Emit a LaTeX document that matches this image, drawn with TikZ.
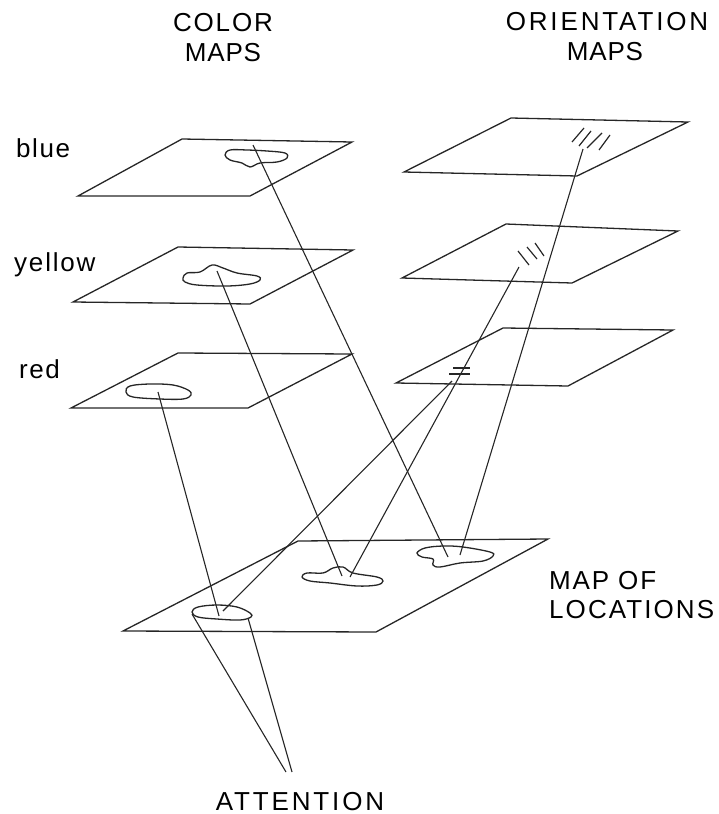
\documentclass[tikz,border=0pt]{standalone}
\usepackage{fontspec}
\setmainfont{Liberation Sans}
\tikzset{
  every picture/.style={x=1pt,y=-1pt},
  plane/.style={draw=black!85,line width=1.3pt,line join=miter},
  blob/.style={draw=black!85,line width=1.3pt},
  ray/.style={draw=black!85,line width=1.1pt},
  tickmark/.style={draw=black!85,line width=1.2pt},
  textlabel/.style={font=\fontsize{26}{26}\selectfont\addfontfeature{LetterSpace=#1},text=black,inner sep=0pt,anchor=base},
  lowlabel/.style={textlabel=#1,anchor=base west},
}
\begin{document}
\begin{tikzpicture}
\useasboundingbox (0,0) rectangle (719,814);
% planes
\draw[plane] (182,139) -- (352,142) -- (250,196) -- (78,196) -- cycle;
\draw[plane] (178,247) -- (353,250) -- (250,304) -- (73,302) -- cycle;
\draw[plane] (178,353) -- (352,354) -- (248,408) -- (71,408) -- cycle;
\draw[plane] (511,118) -- (688,122) -- (577,176) -- (404,172) -- cycle;
\draw[plane] (506,224) -- (678,231) -- (572,283) -- (402,278) -- cycle;
\draw[plane] (503,328) -- (673,330) -- (568,386) -- (396,383) -- cycle;
\draw[plane] (298,541) -- (548,539) -- (376,632) -- (123,631) -- cycle;
% blobs
\draw[blob] plot[smooth cycle,tension=0.6] coordinates {(225,155)(230,150)(247,150)(267,151)(285,153)(287,158)(277,162)(260,163)(250,167)(242,163)(230,160)};
\draw[blob] plot[smooth cycle,tension=0.6] coordinates {(183,278)(187,273)(200,272)(212,265)(223,268)(237,273)(257,276)(260,280)(250,284)(227,286)(197,285)(185,282)};
\draw[blob] plot[smooth cycle,tension=0.6] coordinates {(126,392)(130,386)(150,384)(173,385)(188,390)(191,395)(183,399)(160,399)(133,397)};
\draw[blob] plot[smooth cycle,tension=0.6] coordinates {(192,612)(198,607)(217,605)(237,607)(250,613)(251,617)(240,620)(217,619)(198,617)};
\draw[blob] plot[smooth cycle,tension=0.6] coordinates {(302,577)(307,573)(323,573)(333,568)(343,567)(353,573)(377,577)(383,581)(377,585)(357,586)(330,583)(310,581)};
\draw[blob] plot[smooth cycle,tension=0.6] coordinates {(417,553)(425,548)(443,546)(463,547)(490,552)(493,556)(483,561)(460,563)(440,567)(433,565)(433,559)(422,557)};
% ticks
\draw[tickmark] (584,128) -- (572,142) (591,131) -- (579,146) (602,133) -- (587,148) (610,135) -- (599,150);
\draw[tickmark] (518,251) -- (529,265) (527,247) -- (537,259) (535,243) -- (544,256);
\draw[tickmark] (453,368) -- (470,368) (449,374) -- (470,374);
% ray ends
\coordinate (blueA) at (253,145);   \coordinate (blueB) at (448,557);
\coordinate (yellowA) at (217,271); \coordinate (yellowB) at (342,576);
\coordinate (redA) at (158,392);    \coordinate (redB) at (219,616);
\coordinate (topA) at (583,149);    \coordinate (topB) at (460,555);
\coordinate (midA) at (519,267);    \coordinate (midB) at (350,577);
\coordinate (lowA) at (452,381);    \coordinate (lowB) at (223,611);
\coordinate (coneL) at (192,614);   \coordinate (coneR) at (248,618);
\coordinate (apexL) at (286,772);   \coordinate (apexR) at (292,772);
\draw[ray] (blueA) -- (blueB);
\draw[ray] (yellowA) -- (yellowB);
\draw[ray] (redA) -- (redB);
\draw[ray] (topA) -- (topB);
\draw[ray] (midA) -- (midB);
\draw[ray] (lowA) -- (lowB);
\draw[ray] (coneL) -- (apexL);
\draw[ray] (coneR) -- (apexR);
% labels
\node[textlabel=7] (color) at (223,31) {COLOR};
\node[textlabel=3] (colormaps) at (223,61) {MAPS};
\node[textlabel=11] (orient) at (607,30) {ORIENTATION};
\node[textlabel=3] (orientmaps) at (605,60) {MAPS};
\node[lowlabel=6] (blue) at (16,157) {blue};
\node[lowlabel=7] (yellow) at (14,271) {yellow};
\node[lowlabel=6] (red) at (19,378) {red};
\node[lowlabel=7] (mapof) at (549,589) {MAP OF};
\node[lowlabel=8] (locations) at (549,618) {LOCATIONS};
\node[textlabel=11] (attention) at (300,810) {ATTENTION};
\end{tikzpicture}
\end{document}
